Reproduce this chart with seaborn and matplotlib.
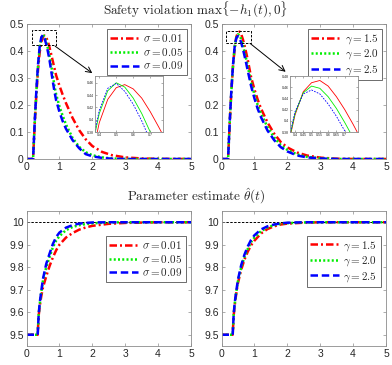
import numpy as np
import pandas as pd
import matplotlib
matplotlib.use('Agg')
import matplotlib.pyplot as plt
from matplotlib.patches import Rectangle
from matplotlib.ticker import FormatStrFormatter
import seaborn as sns

# ---- data ----
# top row: safety violation max{-h1(t), 0}
t_top = [0, 0.2, 0.25, 0.3, 0.35, 0.4, 0.45, 0.5, 0.55, 0.6, 0.65, 0.7, 0.75,
         0.8, 0.85, 0.9, 1.0, 1.1, 1.2, 1.4, 1.6, 1.8, 2.0, 2.3, 2.6, 3.0,
         3.5, 4.0, 5.0]

viol_sig_001 = [0, 0, 0.13, 0.24, 0.33, 0.395, 0.433, 0.452, 0.457, 0.45, 0.435,
                0.413, 0.388, 0.362, 0.336, 0.31, 0.272, 0.238, 0.207, 0.152,
                0.107, 0.073, 0.048, 0.026, 0.014, 0.006, 0.002, 0.0005, 0]
viol_sig_005 = [0, 0, 0.135, 0.25, 0.345, 0.41, 0.447, 0.46, 0.453, 0.435, 0.41,
                0.38, 0.348, 0.31, 0.27, 0.24, 0.195, 0.16, 0.128, 0.078,
                0.045, 0.025, 0.014, 0.006, 0.002, 0, 0, 0, 0]
viol_sig_009 = [0, 0, 0.138, 0.255, 0.35, 0.415, 0.451, 0.459, 0.446, 0.425, 0.398,
                0.366, 0.327, 0.287, 0.25, 0.218, 0.175, 0.14, 0.112, 0.07,
                0.04, 0.018, 0.01, 0.004, 0.001, 0, 0, 0, 0]

viol_gam_15 = [0, 0, 0.135, 0.25, 0.345, 0.41, 0.452, 0.468, 0.472, 0.462, 0.443,
               0.42, 0.394, 0.366, 0.334, 0.303, 0.258, 0.22, 0.187, 0.135,
               0.094, 0.063, 0.043, 0.024, 0.013, 0.005, 0.001, 0, 0]
viol_gam_20 = [0, 0, 0.136, 0.252, 0.347, 0.413, 0.45, 0.462, 0.458, 0.443, 0.422,
               0.397, 0.37, 0.342, 0.312, 0.283, 0.24, 0.2, 0.168, 0.118,
               0.08, 0.052, 0.034, 0.017, 0.008, 0.003, 0, 0, 0]
viol_gam_25 = [0, 0, 0.138, 0.255, 0.35, 0.416, 0.448, 0.455, 0.448, 0.43, 0.408,
               0.382, 0.355, 0.326, 0.298, 0.27, 0.225, 0.186, 0.155, 0.105,
               0.07, 0.044, 0.028, 0.013, 0.006, 0.002, 0, 0, 0]

# bottom row: parameter estimate theta_hat(t)
t_bot = [0, 0.34, 0.37, 0.4, 0.45, 0.5, 0.6, 0.7, 0.8, 0.9, 1.0, 1.2, 1.4,
         1.6, 1.8, 2.0, 2.5, 3.0, 4.0, 5.0]

theta_sig_001 = [9.5, 9.5, 9.585, 9.625, 9.672, 9.71, 9.76, 9.805, 9.843, 9.875,
                 9.9, 9.932, 9.952, 9.967, 9.977, 9.984, 9.993, 9.997, 10, 10]
theta_sig_005 = [9.5, 9.5, 9.59, 9.635, 9.69, 9.74, 9.8, 9.845, 9.888, 9.918,
                 9.938, 9.965, 9.979, 9.987, 9.992, 9.995, 9.999, 10, 10, 10]
theta_sig_009 = [9.5, 9.5, 9.59, 9.64, 9.695, 9.748, 9.815, 9.86, 9.903, 9.934,
                 9.954, 9.976, 9.987, 9.994, 9.997, 9.999, 10, 10, 10, 10]

theta_gam_15 = [9.5, 9.5, 9.585, 9.63, 9.685, 9.73, 9.79, 9.835, 9.87, 9.898,
                9.918, 9.95, 9.97, 9.982, 9.99, 9.994, 9.998, 10, 10, 10]
theta_gam_20 = [9.5, 9.5, 9.59, 9.635, 9.69, 9.738, 9.8, 9.847, 9.882, 9.912,
                9.932, 9.96, 9.977, 9.987, 9.993, 9.996, 9.999, 10, 10, 10]
theta_gam_25 = [9.5, 9.5, 9.59, 9.64, 9.695, 9.745, 9.81, 9.857, 9.893, 9.922,
                9.942, 9.968, 9.982, 9.99, 9.995, 9.998, 10, 10, 10, 10]

theta_true = 10.0

sig_labels = [r'$\sigma = 0.01$', r'$\sigma = 0.05$', r'$\sigma = 0.09$']
gam_labels = [r'$\gamma = 1.5$', r'$\gamma = 2.0$', r'$\gamma = 2.5$']

# ---- style ----
sns.set_style('white')
plt.rcParams['font.family'] = ['Liberation Sans', 'DejaVu Sans']
plt.rcParams['mathtext.fontset'] = 'cm'

COLORS = ['#ff0000', '#00ee00', '#0000ff']
DASHES = [(3.0, 1.2, 0.8, 1.2), (0.8, 0.9), (3.0, 1.5)]
SPINE = '#8c8c8c'

fig = plt.figure(figsize=(3.92, 3.65), dpi=100)
W, H = 392, 365


def add_axes(px_left, px_top, px_w, px_h):
    return fig.add_axes([px_left / W, 1 - (px_top + px_h) / H, px_w / W, px_h / H])


def style_axes(ax, fs=7.5, length=2.5):
    for s in ax.spines.values():
        s.set_color(SPINE)
        s.set_linewidth(0.6)
    ax.tick_params(direction='in', length=length, width=0.5, color=SPINE,
                   labelsize=fs, labelcolor='#262626', pad=2,
                   top=True, right=True, bottom=True, left=True)


def draw_series(ax, t, ys, labels, lw=1.8, main=True):
    for y, lab, c, d in zip(ys, labels, COLORS, DASHES):
        df = pd.DataFrame({'t': t, 'v': y})
        line = sns.lineplot(data=df, x='t', y='v', ax=ax, color=c,
                            linewidth=lw, label=lab if main else None,
                            legend=False, sort=False).lines[-1]
        if main:
            line.set_dashes(d)
    ax.set_xlabel('')
    ax.set_ylabel('')


def add_legend(ax, anchor):
    leg = ax.legend(loc='upper right', bbox_to_anchor=anchor, fontsize=8,
                    frameon=True, fancybox=False, framealpha=1,
                    handlelength=2.6, handletextpad=0.4, borderpad=0.3,
                    labelspacing=0.15, borderaxespad=0)
    leg.get_frame().set_edgecolor('#555555')
    leg.get_frame().set_linewidth(0.6)


def add_inset(ax, px_left, t, ys, xlim, ylim, xticks, yticks, rect, arrow):
    ins = add_axes(px_left, 76, 68, 56)
    style_axes(ins, fs=2.6, length=1.2)
    for y, c, ls in zip(ys, COLORS, ['-', '-', (0, (2.0, 1.5))]):
        ins.plot(t, y, color=c, lw=0.6, linestyle=ls)
    ins.set_xlim(*xlim)
    ins.set_ylim(*ylim)
    ins.set_xticks(xticks)
    ins.set_yticks(yticks)
    ins.xaxis.set_major_formatter(FormatStrFormatter('%g'))
    ins.yaxis.set_major_formatter(FormatStrFormatter('%g'))
    ins.tick_params(pad=1)
    ax.add_patch(Rectangle(rect[:2], rect[2], rect[3], fill=False,
                           edgecolor='black', lw=0.7, linestyle=(0, (2.5, 1.5)),
                           zorder=5))
    ax.annotate('', xy=arrow[1], xytext=arrow[0],
                arrowprops=dict(arrowstyle='->', color='black', lw=0.7,
                                shrinkA=0, shrinkB=0))


# ---- top row ----
ax_tl = add_axes(26.5, 24, 164.5, 135)
ax_tr = add_axes(221.5, 24, 164.5, 135)
ax_bl = add_axes(26.5, 211, 164.5, 135)
ax_br = add_axes(221.5, 211, 164.5, 135)

draw_series(ax_tl, t_top, [viol_sig_001, viol_sig_005, viol_sig_009], sig_labels)
draw_series(ax_tr, t_top, [viol_gam_15, viol_gam_20, viol_gam_25], gam_labels)

for ax in (ax_tl, ax_tr):
    style_axes(ax)
    ax.set_xlim(0, 5)
    ax.set_ylim(0, 0.5)
    ax.set_xticks(range(6))
    ax.set_yticks([0, 0.1, 0.2, 0.3, 0.4, 0.5])
    ax.yaxis.set_major_formatter(FormatStrFormatter('%g'))
    add_legend(ax, (0.975, 0.965))

add_inset(ax_tl, 95, t_top, [viol_sig_001, viol_sig_005, viol_sig_009],
          (0.375, 0.775), (0.38, 0.471), [0.4, 0.5, 0.6, 0.7],
          [0.38, 0.4, 0.42, 0.44, 0.46],
          (0.17, 0.422, 0.73, 0.056), ((0.87, 0.418), (2.0, 0.318)))
add_inset(ax_tr, 290, t_top, [viol_gam_15, viol_gam_20, viol_gam_25],
          (0.37, 0.78), (0.38, 0.48), [0.4, 0.45, 0.5, 0.55, 0.6, 0.65, 0.7],
          [0.38, 0.4, 0.42, 0.44, 0.46, 0.48],
          (0.14, 0.428, 0.76, 0.045), ((0.87, 0.428), (1.95, 0.323)))

# ---- bottom row ----
draw_series(ax_bl, t_bot, [theta_sig_001, theta_sig_005, theta_sig_009], sig_labels)
draw_series(ax_br, t_bot, [theta_gam_15, theta_gam_20, theta_gam_25], gam_labels)

for ax in (ax_bl, ax_br):
    ax.axhline(theta_true, color='black', lw=0.7, linestyle=(0, (2.5, 1.5)), zorder=0)
    style_axes(ax)
    ax.set_xlim(0, 5)
    ax.set_ylim(9.45, 10.05)
    ax.set_xticks(range(6))
    ax.set_yticks([9.5, 9.6, 9.7, 9.8, 9.9, 10])
    ax.yaxis.set_major_formatter(FormatStrFormatter('%g'))
    add_legend(ax, (0.968, 0.818))

# titles
fig.text(0.5, 1 - 9.5 / H, r'$\mathrm{Safety\ violation}\ \max\{-h_1(t),0\}$',
         ha='center', va='center', fontsize=9.5)
fig.text(0.5, 1 - 196 / H, r'$\mathrm{Parameter\ estimate}\ \hat{\theta}(t)$',
         ha='center', va='center', fontsize=9.5)

fig.savefig('out.png', dpi=100)
